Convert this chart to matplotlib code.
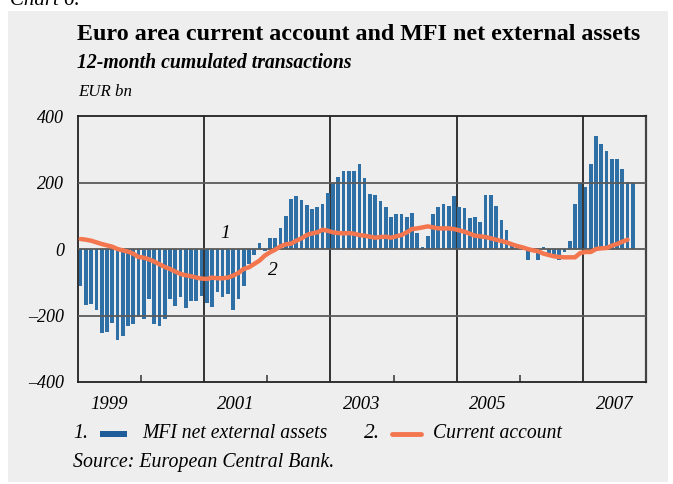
import numpy as np
import matplotlib
matplotlib.use("Agg")
import matplotlib.pyplot as plt
from matplotlib.patches import Rectangle
from matplotlib.lines import Line2D

# ---- data (EUR bn, monthly, 12-month cumulated) ----
mfi_1999 = [-112, -169, -166, -182, -253, -250, -223, -274, -262, -232, -226, -205]
mfi_2000 = [-211, -151, -226, -232, -211, -151, -172, -145, -178, -157, -157, -142]
mfi_2001 = [-163, -175, -130, -145, -136, -184, -151, -112, -46, -18, 18, -6]
mfi_2002 = [34, 34, 64, 100, 151, 160, 148, 133, 121, 127, 136, 169]
mfi_2003 = [197, 217, 235, 235, 235, 256, 214, 166, 163, 145, 127, 97]
mfi_2004 = [106, 106, 97, 109, 49, 5, 40, 106, 127, 136, 130, 160]
mfi_2005 = [127, 124, 94, 97, 82, 163, 163, 130, 88, 58, 8, 2]
mfi_2006 = [-2, -34, -3, -34, 7, -14, -19, -32, -10, 25, 136, 199]
mfi_2007 = [187, 256, 340, 316, 295, 271, 271, 241, 202, 199]

ca_1999 = [30, 28, 25, 20, 15, 11, 7, 0, -4, -8, -14, -24]
ca_2000 = [-26, -31, -38, -46, -54, -60, -68, -75, -79, -82, -86, -89]
ca_2001 = [-90, -86, -88, -88, -86, -80, -72, -60, -55, -45, -35, -20]
ca_2002 = [-10, -2, 8, 14, 16, 25, 32, 42, 47, 50, 58, 55]
ca_2003 = [50, 48, 47, 48, 46, 42, 40, 37, 34, 36, 37, 34]
ca_2004 = [38, 42, 50, 60, 62, 65, 68, 65, 62, 62, 62, 60]
ca_2005 = [56, 52, 46, 40, 38, 36, 32, 28, 24, 20, 14, 9]
ca_2006 = [5, 0, -4, -7, -14, -18, -22, -24, -25, -25, -25, -12]
ca_2007 = [-9, -9, 0, 2, 3, 10, 15, 22, 28]

mfi = (mfi_1999 + mfi_2000 + mfi_2001 + mfi_2002 + mfi_2003 + mfi_2004
       + mfi_2005 + mfi_2006 + mfi_2007)
ca = (ca_1999 + ca_2000 + ca_2001 + ca_2002 + ca_2003 + ca_2004
      + ca_2005 + ca_2006 + ca_2007)

year_labels = ["1999", "2001", "2003", "2005", "2007"]
y_ticks = [-400, -200, 0, 200, 400]

title = "Euro area current account and MFI net external assets"
subtitle = "12-month cumulated transactions"
unit = "EUR bn"
leg1 = "MFI net external assets"
leg2 = "Current account"
source = "Source: European Central Bank."
chart_no = "Chart 6."

# ---- styling ----
W, H = 673, 484
BG = "#eeeeee"
BLUE = "#2e6fa5"
BLUE_LEG = "#1f5c9a"
ORANGE = "#f4764f"
SERIF = ["Liberation Serif", "DejaVu Serif"]

fig = plt.figure(figsize=(W / 100, H / 100), dpi=100)
fig.patch.set_facecolor("white")

def fx(x):
    return x / W

def fy(y):
    return 1 - y / H

fig.patches.append(Rectangle((fx(8), fy(482)), (668 - 8) / W, (482 - 11) / H,
                             transform=fig.transFigure, facecolor=BG,
                             edgecolor="none", zorder=-10))

ax = fig.add_axes([fx(78), fy(382), (646 - 78) / W, (382 - 116) / H])
ax.set_facecolor(BG)

x_bar = 1999 + (np.arange(len(mfi)) + 0.5) / 12
x_line = 1999 + (np.arange(len(ca)) + 0.5) / 12

for v in [2001, 2003, 2005, 2007]:
    ax.axvline(v, color="black", lw=1.1, zorder=1)

ax.bar(x_bar, mfi, width=0.7 / 12, color=BLUE, zorder=2, linewidth=0)

for v in [-200, 0, 200]:
    ax.axhline(v, color="#5a5a5a", lw=1.3, zorder=3)

ax.plot(x_line, ca, color=ORANGE, lw=3.2, zorder=4, solid_capstyle="round")

ax.set_xlim(1999, 2008)
ax.set_ylim(-400, 400)

for s in ["top", "bottom", "left"]:
    ax.spines[s].set_color("#222222")
    ax.spines[s].set_linewidth(1.3)
ax.spines["right"].set_color("#444444")
ax.spines["right"].set_linewidth(1.6)

ax.set_xticks([2000, 2002, 2004, 2006])
ax.set_xticklabels([])
ax.tick_params(axis="x", which="major", direction="in", length=5, width=1.1,
               color="#333333")
ax.set_xticks([int(y) + 0.5 for y in year_labels], minor=True)
ax.set_xticklabels(year_labels, minor=True, fontfamily=SERIF, fontstyle="italic",
                   fontsize=13.5)
ax.tick_params(axis="x", which="minor", length=0, pad=10)

ax.set_yticks(y_ticks)
ax.set_yticklabels([("\u2013" + str(-v)) if v < 0 else str(v) for v in y_ticks],
                   fontfamily=SERIF, fontstyle="italic", fontsize=13)
ax.tick_params(axis="y", length=0, pad=10)

# series labels inside chart
ax.text(2001.33, 46, "1", fontfamily=SERIF, fontstyle="italic", fontsize=14,
        ha="center", va="center", zorder=5)
ax.text(2002.08, -66, "2", fontfamily=SERIF, fontstyle="italic", fontsize=14,
        ha="center", va="center", zorder=5)

# ---- texts ----
texts = []
def ftext(x, y, s, target_w, size, va="center", **kw):
    t = fig.text(fx(x), fy(y), s, fontfamily=SERIF, fontsize=size,
                 va=va, ha="left", **kw)
    texts.append((t, target_w))
    return t

ftext(77, 34, title, 562, 16, fontweight="bold")
ftext(77, 63, subtitle, 275, 12.5, fontweight="bold", fontstyle="italic")
ftext(78, 92, unit, 54, 12, fontstyle="italic")
ftext(73, 433, "1.", 15, 12, fontstyle="italic")
ftext(142, 433, leg1, 186, 12.5, fontstyle="italic")
ftext(364, 433, "2.", 16, 12, fontstyle="italic")
ftext(433, 433, leg2, 129, 12.5, fontstyle="italic")
ftext(73, 463, source, 260, 12, fontstyle="italic")
ftext(10, 5, chart_no, 70, 14, va="baseline", fontstyle="italic")

fig.canvas.draw()
r = fig.canvas.get_renderer()
for t, tw in texts:
    bb = t.get_window_extent(r)
    if bb.width > 0:
        t.set_fontsize(t.get_fontsize() * tw / bb.width)

# legend keys
fig.patches.append(Rectangle((fx(100), fy(437)), 27 / W, 6 / H,
                             transform=fig.transFigure, facecolor=BLUE_LEG,
                             edgecolor="none"))
fig.lines.append(Line2D([fx(392), fx(421)], [fy(433.5), fy(433.5)],
                        transform=fig.transFigure, color=ORANGE, lw=3.5,
                        solid_capstyle="round"))

fig.savefig("out.png", dpi=100, facecolor=fig.get_facecolor())
